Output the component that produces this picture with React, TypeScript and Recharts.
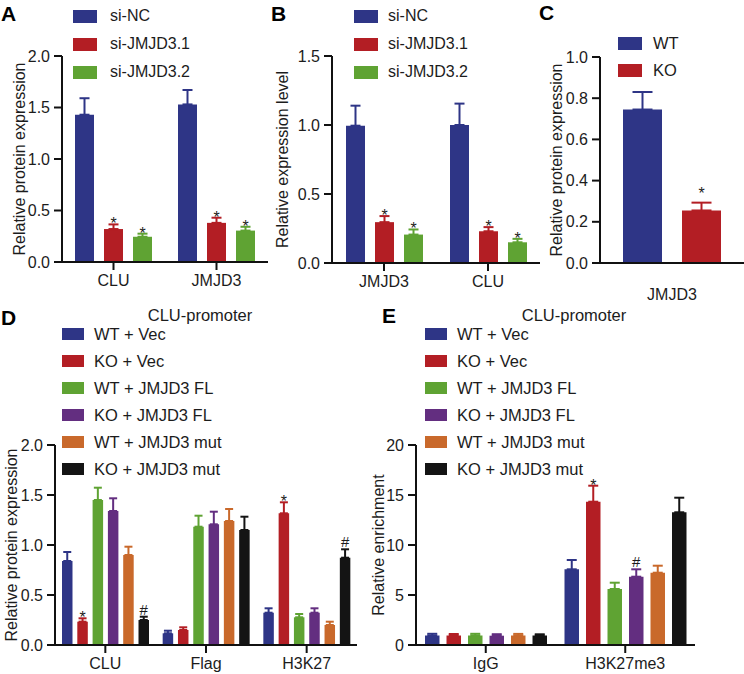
import React from 'react';
import { BarChart, Bar, XAxis, YAxis, ErrorBar, LabelList } from 'recharts';

const FONT = '"Liberation Sans", Arial, Helvetica, sans-serif';
const INK = '#1c1c1c';
const AXIS = '#111111';

const BLUE = '#2E3586';
const RED = '#B31E24';
const GREEN = '#5FA333';
const PURPLE = '#632E80';
const ORANGE = '#C9692B';
const BLACK = '#141414';

// ---------- Panel A ----------
const aCategories = ['CLU', 'JMJD3'];
const aSeriesNames = ['si-NC', 'si-JMJD3.1', 'si-JMJD3.2'];
const aSiNC = [1.43, 1.53];
const aSiNCErr = [0.16, 0.14];
const aSi1 = [0.32, 0.38];
const aSi1Err = [0.045, 0.05];
const aSi2 = [0.245, 0.305];
const aSi2Err = [0.03, 0.037];
const aMarksSi1 = ['*', '*'];
const aMarksSi2 = ['*', '*'];
const aTicks = [0, 0.5, 1.0, 1.5, 2.0];

// ---------- Panel B ----------
const bCategories = ['JMJD3', 'CLU'];
const bSiNC = [0.995, 1.0];
const bSiNCErr = [0.145, 0.155];
const bSi1 = [0.296, 0.23];
const bSi1Err = [0.044, 0.03];
const bSi2 = [0.206, 0.15];
const bSi2Err = [0.037, 0.025];
const bMarksSi1 = ['*', '*'];
const bMarksSi2 = ['*', '*'];
const bTicks = [0, 0.5, 1.0, 1.5];

// ---------- Panel C ----------
const cCategories = ['JMJD3'];
const cSeriesNames = ['WT', 'KO'];
const cWT = [0.745];
const cWTErr = [0.085];
const cKO = [0.255];
const cKOErr = [0.038];
const cMarksKO = ['*'];
const cTicks = [0, 0.2, 0.4, 0.6, 0.8, 1.0];

// ---------- Panels D & E ----------
const groupNames = ['WT + Vec', 'KO + Vec', 'WT + JMJD3 FL', 'KO + JMJD3 FL', 'WT + JMJD3 mut', 'KO + JMJD3 mut'];
const groupColors = [BLUE, RED, GREEN, PURPLE, ORANGE, BLACK];

const dCategories = ['CLU', 'Flag', 'H3K27'];
const dWTVec = [0.84, 0.117, 0.323];
const dWTVecErr = [0.09, 0.026, 0.044];
const dKOVec = [0.233, 0.15, 1.317];
const dKOVecErr = [0.034, 0.027, 0.11];
const dWTFL = [1.45, 1.183, 0.277];
const dWTFLErr = [0.123, 0.11, 0.033];
const dKOFL = [1.34, 1.207, 0.323];
const dKOFLErr = [0.127, 0.126, 0.044];
const dWTMut = [0.9, 1.24, 0.2];
const dWTMutErr = [0.083, 0.12, 0.033];
const dKOMut = [0.25, 1.15, 0.873];
const dKOMutErr = [0.033, 0.133, 0.084];
const dMarksKOVec = ['*', '', '*'];
const dMarksKOMut = ['#', '', '#'];
const dTicks = [0, 0.5, 1.0, 1.5, 2.0];

const eCategories = ['IgG', 'H3K27me3'];
const eWTVec = [0.95, 7.57];
const eWTVecErr = [0.17, 0.93];
const eKOVec = [0.95, 14.33];
const eKOVecErr = [0.15, 1.6];
const eWTFL = [0.95, 5.6];
const eWTFLErr = [0.17, 0.63];
const eKOFL = [0.93, 6.83];
const eKOFLErr = [0.15, 0.74];
const eWTMut = [0.95, 7.23];
const eWTMutErr = [0.16, 0.7];
const eKOMut = [0.95, 13.27];
const eKOMutErr = [0.12, 1.46];
const eMarksKOVec = ['', '*'];
const eMarksKOFL = ['', '#'];
const eTicks = [0, 5, 10, 15, 20];

type Series = { name: string; color: string; values: number[]; errors: number[]; marks?: string[] };

const makeMarkRenderer = (values: number[], errors: number[], lift: number) => (props: any) => {
  const { index, value } = props;
  if (!value) return null;
  const vb = props.viewBox || props;
  const x = Number(vb.x);
  const y = Number(vb.y);
  const w = Number(vb.width);
  const h = Math.abs(Number(vb.height));
  const v = values[index];
  const perUnit = v ? h / v : 0;
  const capY = y - errors[index] * perUnit;
  const baseline = value === '*' ? capY + 5 - lift : capY - 2 - lift;
  return (
    <text
      key={`mk-${index}`}
      x={x + w / 2}
      y={baseline}
      textAnchor="middle"
      fontSize={value === '*' ? 16 : 15}
      fontFamily={FONT}
      fill={INK}
    >
      {value}
    </text>
  );
};

type PanelProps = {
  left: number;
  top: number;
  width: number;
  height: number;
  margin: { top: number; right: number; bottom: number; left: number };
  yWidth: number;
  xHeight: number;
  ticks: number[];
  decimals: number;
  categories: string[];
  series: Series[];
  barSize: number;
  barGap: number;
  cap: number;
  yLabel: string;
  yLabelOffset: number;
  xTickLine?: boolean;
  xTickMargin?: number;
  markLift?: number;
};

function Panel(p: PanelProps) {
  const data = p.categories.map((c, ci) => {
    const row: any = { cat: c };
    p.series.forEach((s, si) => {
      row[`v${si}`] = s.values[ci];
      row[`e${si}`] = [0, s.errors[ci]];
      row[`m${si}`] = s.marks ? s.marks[ci] : '';
    });
    return row;
  });
  const tickStyle = { fill: INK, fontSize: 16, fontFamily: FONT };
  const xTickLine = p.xTickLine !== false;
  return (
    <div style={{ position: 'absolute', left: p.left, top: p.top }}>
      <BarChart
        width={p.width}
        height={p.height}
        data={data}
        margin={p.margin}
        barSize={p.barSize}
        barGap={p.barGap}
      >
        <XAxis
          dataKey="cat"
          interval={0}
          height={p.xHeight}
          axisLine={{ stroke: AXIS, strokeWidth: 2 }}
          tickLine={xTickLine ? { stroke: AXIS, strokeWidth: 2 } : false}
          tickSize={8}
          tickMargin={p.xTickMargin ?? 5}
          tick={tickStyle}
        />
        <YAxis
          type="number"
          domain={[p.ticks[0], p.ticks[p.ticks.length - 1]]}
          ticks={p.ticks}
          allowDataOverflow
          width={p.yWidth}
          axisLine={{ stroke: AXIS, strokeWidth: 2 }}
          tickLine={{ stroke: AXIS, strokeWidth: 2 }}
          tickSize={8}
          tickMargin={4}
          tick={tickStyle}
          tickFormatter={(v: number) => v.toFixed(p.decimals)}
          label={{
            value: p.yLabel,
            angle: -90,
            position: 'insideLeft',
            offset: p.yLabelOffset,
            style: { textAnchor: 'middle', fill: INK, fontSize: 16, fontFamily: FONT },
          }}
        />
        {p.series.map((s, si) => (
          <Bar key={s.name} dataKey={`v${si}`} fill={s.color} isAnimationActive={false}>
            <ErrorBar dataKey={`e${si}`} width={p.cap} stroke={s.color} strokeWidth={2} direction="y" />
            <LabelList dataKey={`m${si}`} content={makeMarkRenderer(s.values, s.errors, p.markLift ?? 0)} />
          </Bar>
        ))}
      </BarChart>
    </div>
  );
}

function LegendBlock(props: {
  swatchLeft: number;
  textLeft: number;
  firstCenter: number;
  step: number;
  swatchW: number;
  swatchH: number;
  fontSize: number;
  names: string[];
  colors: string[];
}) {
  return (
    <>
      {props.names.map((n, i) => {
        const cy = props.firstCenter + i * props.step;
        return (
          <React.Fragment key={n}>
            <div
              style={{
                position: 'absolute',
                left: props.swatchLeft,
                top: cy - props.swatchH / 2,
                width: props.swatchW,
                height: props.swatchH,
                background: props.colors[i],
              }}
            />
            <div
              style={{
                position: 'absolute',
                left: props.textLeft,
                top: cy - 10,
                height: 20,
                lineHeight: '20px',
                fontSize: props.fontSize,
                fontFamily: FONT,
                color: INK,
                whiteSpace: 'nowrap',
              }}
            >
              {n}
            </div>
          </React.Fragment>
        );
      })}
    </>
  );
}

const panelLetter = (t: string, left: number, cy: number) => (
  <div
    style={{
      position: 'absolute',
      left,
      top: cy - 12,
      height: 24,
      lineHeight: '24px',
      fontSize: 21,
      fontWeight: 'bold',
      fontFamily: FONT,
      color: '#000',
    }}
  >
    {t}
  </div>
);

const centeredText = (t: string, cx: number, cy: number) => (
  <div
    style={{
      position: 'absolute',
      left: cx - 80,
      width: 160,
      textAlign: 'center',
      top: cy - 10,
      height: 20,
      lineHeight: '20px',
      fontSize: 16.5,
      fontFamily: FONT,
      color: INK,
    }}
  >
    {t}
  </div>
);

export default function App() {
  const aSeries: Series[] = [
    { name: aSeriesNames[0], color: BLUE, values: aSiNC, errors: aSiNCErr },
    { name: aSeriesNames[1], color: RED, values: aSi1, errors: aSi1Err, marks: aMarksSi1 },
    { name: aSeriesNames[2], color: GREEN, values: aSi2, errors: aSi2Err, marks: aMarksSi2 },
  ];
  const bSeries: Series[] = [
    { name: aSeriesNames[0], color: BLUE, values: bSiNC, errors: bSiNCErr },
    { name: aSeriesNames[1], color: RED, values: bSi1, errors: bSi1Err, marks: bMarksSi1 },
    { name: aSeriesNames[2], color: GREEN, values: bSi2, errors: bSi2Err, marks: bMarksSi2 },
  ];
  const cSeries: Series[] = [
    { name: cSeriesNames[0], color: BLUE, values: cWT, errors: cWTErr },
    { name: cSeriesNames[1], color: RED, values: cKO, errors: cKOErr, marks: cMarksKO },
  ];
  const dVals = [dWTVec, dKOVec, dWTFL, dKOFL, dWTMut, dKOMut];
  const dErrs = [dWTVecErr, dKOVecErr, dWTFLErr, dKOFLErr, dWTMutErr, dKOMutErr];
  const dMarks = [undefined, dMarksKOVec, undefined, undefined, undefined, dMarksKOMut];
  const dSeries: Series[] = groupNames.map((n, i) => ({
    name: n,
    color: groupColors[i],
    values: dVals[i],
    errors: dErrs[i],
    marks: dMarks[i],
  }));
  const eVals = [eWTVec, eKOVec, eWTFL, eKOFL, eWTMut, eKOMut];
  const eErrs = [eWTVecErr, eKOVecErr, eWTFLErr, eKOFLErr, eWTMutErr, eKOMutErr];
  const eMarks = [undefined, eMarksKOVec, undefined, eMarksKOFL, undefined, undefined];
  const eSeries: Series[] = groupNames.map((n, i) => ({
    name: n,
    color: groupColors[i],
    values: eVals[i],
    errors: eErrs[i],
    marks: eMarks[i],
  }));

  return (
    <div
      style={{
        position: 'absolute',
        left: 0,
        top: 0,
        width: 744,
        height: 674,
        background: '#ffffff',
        overflow: 'hidden',
        fontFamily: FONT,
      }}
    >
      <Panel
        left={0}
        top={0}
        width={272}
        height={300}
        margin={{ top: 56, right: 4, bottom: 0, left: 0 }}
        yWidth={62}
        xHeight={38}
        ticks={aTicks}
        decimals={1}
        categories={aCategories}
        series={aSeries}
        barSize={19}
        barGap={10}
        cap={5}
        yLabel="Relative protein expression"
        yLabelOffset={19}
      />
      <Panel
        left={270}
        top={0}
        width={272}
        height={300}
        margin={{ top: 56, right: 2, bottom: 0, left: 0 }}
        yWidth={62}
        xHeight={37}
        ticks={bTicks}
        decimals={1}
        categories={bCategories}
        series={bSeries}
        barSize={19}
        barGap={10}
        cap={5}
        yLabel="Relative expression level"
        yLabelOffset={12}
      />
      <Panel
        left={542}
        top={0}
        width={202}
        height={315}
        margin={{ top: 57, right: 0, bottom: 0, left: 0 }}
        yWidth={58}
        xHeight={52}
        ticks={cTicks}
        decimals={1}
        categories={cCategories}
        series={cSeries}
        barSize={39}
        barGap={20}
        cap={10}
        yLabel="Relative protein expression"
        yLabelOffset={14}
        xTickLine={false}
        xTickMargin={18}
        markLift={9}
      />
      <Panel
        left={0}
        top={300}
        width={362}
        height={374}
        margin={{ top: 145, right: 5, bottom: 0, left: 0 }}
        yWidth={55}
        xHeight={29}
        ticks={dTicks}
        decimals={1}
        categories={dCategories}
        series={dSeries}
        barSize={10.5}
        barGap={4.8}
        cap={4}
        yLabel="Relative protein expression"
        yLabelOffset={11}
      />
      <Panel
        left={362}
        top={300}
        width={336}
        height={374}
        margin={{ top: 145, right: 3, bottom: 0, left: 0 }}
        yWidth={54}
        xHeight={29}
        ticks={eTicks}
        decimals={0}
        categories={eCategories}
        series={eSeries}
        barSize={14.5}
        barGap={7}
        cap={5}
        yLabel="Relative enrichment"
        yLabelOffset={16}
      />

      {panelLetter('A', 1, 14)}
      {panelLetter('B', 271, 14)}
      {panelLetter('C', 539, 13)}
      {panelLetter('D', 1, 318)}
      {panelLetter('E', 382, 316)}

      <LegendBlock
        swatchLeft={73}
        textLeft={110}
        firstCenter={16}
        step={28}
        swatchW={24}
        swatchH={13}
        fontSize={16}
        names={aSeriesNames}
        colors={[BLUE, RED, GREEN]}
      />
      <LegendBlock
        swatchLeft={354}
        textLeft={388}
        firstCenter={16}
        step={28}
        swatchW={24}
        swatchH={13}
        fontSize={16}
        names={aSeriesNames}
        colors={[BLUE, RED, GREEN]}
      />
      <LegendBlock
        swatchLeft={618}
        textLeft={653}
        firstCenter={43}
        step={27}
        swatchW={24}
        swatchH={13}
        fontSize={16.5}
        names={cSeriesNames}
        colors={[BLUE, RED]}
      />
      {centeredText('CLU-promoter', 200, 315)}
      <LegendBlock
        swatchLeft={62}
        textLeft={94}
        firstCenter={334}
        step={27}
        swatchW={22}
        swatchH={12}
        fontSize={16.5}
        names={groupNames}
        colors={groupColors}
      />
      {centeredText('CLU-promoter', 574, 315)}
      <LegendBlock
        swatchLeft={425}
        textLeft={457}
        firstCenter={334}
        step={27}
        swatchW={22}
        swatchH={12}
        fontSize={16.5}
        names={groupNames}
        colors={groupColors}
      />
    </div>
  );
}
